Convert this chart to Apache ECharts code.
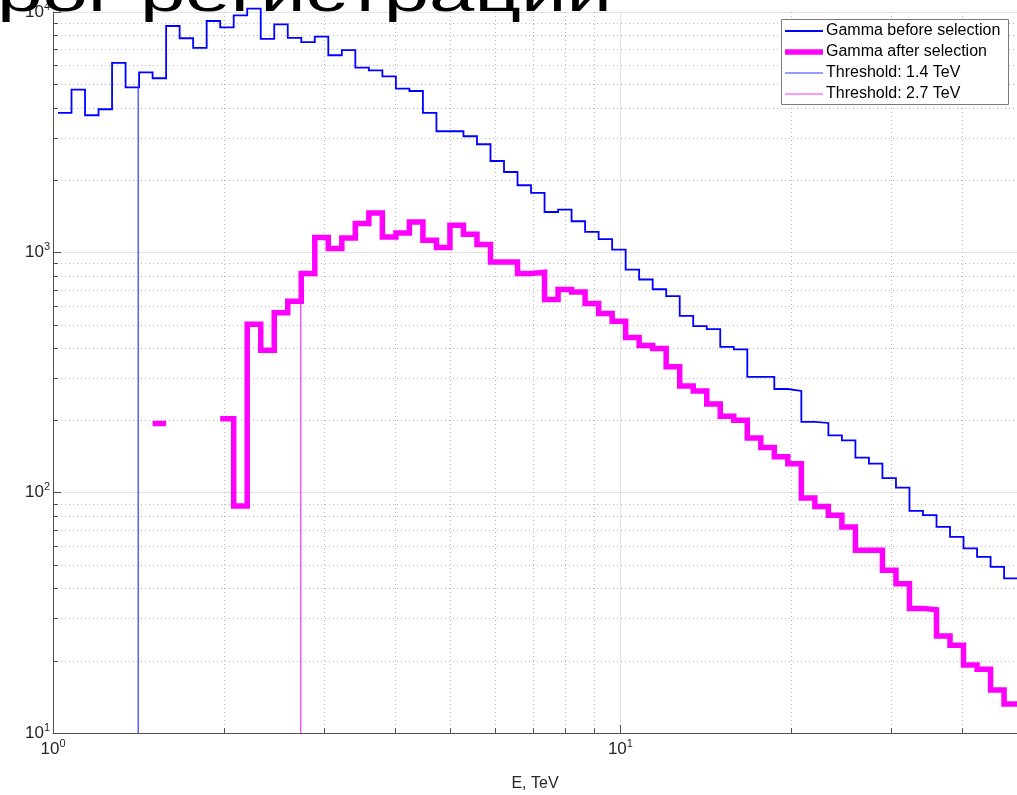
<!DOCTYPE html>
<html><head><meta charset="utf-8">
<script src="https://cdn.jsdelivr.net/npm/echarts@6/dist/echarts.min.js"></script>
<style>html,body{margin:0;padding:0;background:#fff}#c{width:1017px;height:795px}</style>
</head><body><div id="c"></div>
<script>
// Bin edges (TeV), log-spaced
const binEdges = [
 1.0205,1.0780,1.1388,1.2030,1.2708,1.3425,1.4181,1.4981,1.5826,1.6718,
 1.7660,1.8656,1.9708,2.0819,2.1993,2.3233,2.4543,2.5926,2.7388,2.8932,
 3.0563,3.2287,3.4107,3.6030,3.8061,4.0207,4.2474,4.4869,4.7398,5.0071,
 5.2894,5.5876,5.9026,6.2354,6.5869,6.9583,7.3506,7.7650,8.2028,8.6653,
 9.1539,9.6699,10.215,10.791,11.400,12.042,12.721,13.438,14.196,14.996,
 15.842,16.735,17.679,18.675,19.728,20.840,22.015,23.257,24.568,25.953,
 27.416,28.962,30.595,32.320,34.142,36.067,38.100,40.248,42.517,44.914,
 47.446,50.121];
const gammaBefore = [
 3802,4755,3718,3938,6137,4861,5613,5300,8743,7776,
 7085,9173,8637,9689,10330,7724,8888,7798,7500,7901,
 6607,6934,5869,5721,5402,4801,4692,3802,3190,3190,
 3041,2817,2399,2159,1902,1766,1472,1507,1347,1216,
 1134,1027,848,771,702,657,544,493,479,404,
 395,303,303,270,265,197,195,173,165,140,
 132,115,105,84,80.6,72.1,65.5,58.6,54.1,49.1,
 44.0];
const gammaAfter = [
 null,null,null,null,null,null,null,194,null,null,
 null,null,203,88,502,391,560,626,816,1152,
 1037,1148,1317,1458,1159,1204,1338,1123,1047,1297,
 1189,1078,912,912,816,826,636,700,684,612,
 556,517,442,410,398,334,278,265,234,208,
 200,169,154,141,132,95,87.5,80.6,72,57.6,
 57.6,47.5,41.8,33.0,32.6,25.3,23.2,19.2,18.4,15.1,
 13.2];
const thresholdE = [1.413, 2.733];
const thresholdTop = [4861, 626];
const seriesNames = ['Gamma before selection','Gamma after selection','Threshold: 1.4 TeV','Threshold: 2.7 TeV'];
const xMinor = [2,3,4,5,6,7,8,9,20,30,40];
const yMinor = [20,30,40,50,60,70,80,90,200,300,400,500,600,700,800,900,2000,3000,4000,5000,6000,7000,8000,9000];
const titleText = 'порог регистрации';
const xAxisName = 'E, TeV';

const seriesColors = ['#0000ff','#ff00ff','#2a3cff','#ff33ff'];
const seriesWidths = [1.8, 5.5, 1.2, 1.2];

function stairs(vals){
  const pts = [];
  vals.forEach((v,i)=>{
    if (v == null) { pts.push([binEdges[i], '-']); }
    else { pts.push([binEdges[i], v]); pts.push([binEdges[i+1], v]); }
  });
  return pts;
}
const powLabel = v => {
  const l = Math.log10(v), e = Math.round(l);
  return Math.abs(l - e) < 1e-6 ? '10{s|' + e + '}' : '';
};
const AX = '#505050';
const FONT = 'Liberation Sans';
const labelStyle = {
  color:'#262626', fontFamily:FONT, fontSize:17, lineHeight:22,
  formatter: powLabel,
  rich:{ s:{ fontSize:11, lineHeight:12, verticalAlign:'top', fontFamily:FONT, color:'#262626' } }
};
const snap = x => Math.round(x) + 0.5;

// legend drawn as graphic (box, sample lines, texts)
const legBox = { x:781, y:19, w:227, h:85, rowH:21, first:31 };
const legendGraphic = [{
  type:'rect', z:90, silent:true,
  shape:{ x:legBox.x + 0.5, y:legBox.y + 0.5, width:legBox.w, height:legBox.h },
  style:{ fill:'#fff', stroke:'#7a7a7a', lineWidth:1 }
}];
seriesNames.forEach((n,i)=>{
  const y = legBox.first + i*legBox.rowH;
  legendGraphic.push({ type:'line', z:91, silent:true,
    shape:{ x1:legBox.x + 4, y1:y, x2:legBox.x + 42, y2:y },
    style:{ stroke:seriesColors[i], lineWidth:seriesWidths[i] } });
  legendGraphic.push({ type:'text', z:91, silent:true, x:legBox.x + 45, y:y,
    style:{ text:n, fill:'#000', font:'16px "' + FONT + '"', textVerticalAlign:'middle', textAlign:'left' } });
});

const chart = echarts.init(document.getElementById('c'), null, {renderer:'canvas'});
chart.setOption({
  animation:false,
  backgroundColor:'#fff',
  grid:{ left:53, right:0, top:12, bottom:62, outerBoundsMode:'none', containLabel:false },
  xAxis:{
    type:'log', logBase:10, min:1, max:50, interval:1,
    name:xAxisName, nameLocation:'middle', nameGap:43,
    nameTextStyle:{ fontSize:16, color:'#262626', fontFamily:FONT },
    axisLine:{ show:true, lineStyle:{ color:AX, width:1 } },
    axisTick:{ show:true, inside:true, length:8, lineStyle:{ color:AX } },
    axisLabel:Object.assign({ margin:5, showMaxLabel:false, hideOverlap:false }, labelStyle),
    splitLine:{ show:true, lineStyle:{ color:'#e2e2e2', width:1 } }
  },
  yAxis:{
    type:'log', logBase:10, min:10, max:10000, interval:1,
    axisLine:{ show:true, lineStyle:{ color:AX, width:1 } },
    axisTick:{ show:true, inside:true, length:8, lineStyle:{ color:AX } },
    axisLabel:Object.assign({ margin:3, hideOverlap:false }, labelStyle),
    splitLine:{ show:true, lineStyle:{ color:'#e2e2e2', width:1 } }
  },
  graphic:[{
    type:'text', x:612, y:-3, scaleX:1.566, z:100, silent:true,
    style:{ text:titleText, fill:'#000', font:'52px "' + FONT + '"', textAlign:'right', textVerticalAlign:'middle' }
  }].concat(legendGraphic),
  series:[
    { type:'custom', silent:true, z:1, clip:false,
      data:xMinor.map(v=>[v,10]),
      renderItem:(p, api)=>{
        const v = api.value(0); const a = api.coord([v,10]); const b = api.coord([v,10000]);
        const x = snap(a[0]);
        return { type:'group', children:[
          { type:'line', shape:{x1:x,y1:a[1],x2:x,y2:b[1]}, style:{stroke:'#b8b8b8', lineWidth:1, lineDash:[1,3]} },
          { type:'line', shape:{x1:x,y1:a[1],x2:x,y2:a[1]-5}, style:{stroke:AX, lineWidth:1} } ]};
      } },
    { type:'custom', silent:true, z:1, clip:false,
      data:yMinor.map(v=>[1,v]),
      renderItem:(p, api)=>{
        const v = api.value(1); const a = api.coord([1,v]); const b = api.coord([50,v]);
        const y = snap(a[1]);
        return { type:'group', children:[
          { type:'line', shape:{x1:a[0],y1:y,x2:b[0],y2:y}, style:{stroke:'#b8b8b8', lineWidth:1, lineDash:[1,3]} },
          { type:'line', shape:{x1:a[0],y1:y,x2:a[0]+5,y2:y}, style:{stroke:AX, lineWidth:1} } ]};
      } },
    { name:seriesNames[0], type:'line', data:stairs(gammaBefore), symbol:'none', showSymbol:false,
      clip:false, z:3, connectNulls:false,
      lineStyle:{ color:seriesColors[0], width:seriesWidths[0], join:'miter' }, itemStyle:{ color:seriesColors[0] } },
    { name:seriesNames[1], type:'line', data:stairs(gammaAfter), symbol:'none', showSymbol:false,
      z:4, connectNulls:false,
      lineStyle:{ color:seriesColors[1], width:seriesWidths[1], join:'miter', cap:'butt' }, itemStyle:{ color:seriesColors[1] } },
    { name:seriesNames[2], type:'line', data:[[thresholdE[0],10],[thresholdE[0],thresholdTop[0]]],
      symbol:'none', showSymbol:false, z:3,
      lineStyle:{ color:seriesColors[2], width:seriesWidths[2] }, itemStyle:{ color:seriesColors[2] } },
    { name:seriesNames[3], type:'line', data:[[thresholdE[1],10],[thresholdE[1],thresholdTop[1]]],
      symbol:'none', showSymbol:false, z:3,
      lineStyle:{ color:seriesColors[3], width:seriesWidths[3] }, itemStyle:{ color:seriesColors[3] } }
  ]
});
</script></body></html>
